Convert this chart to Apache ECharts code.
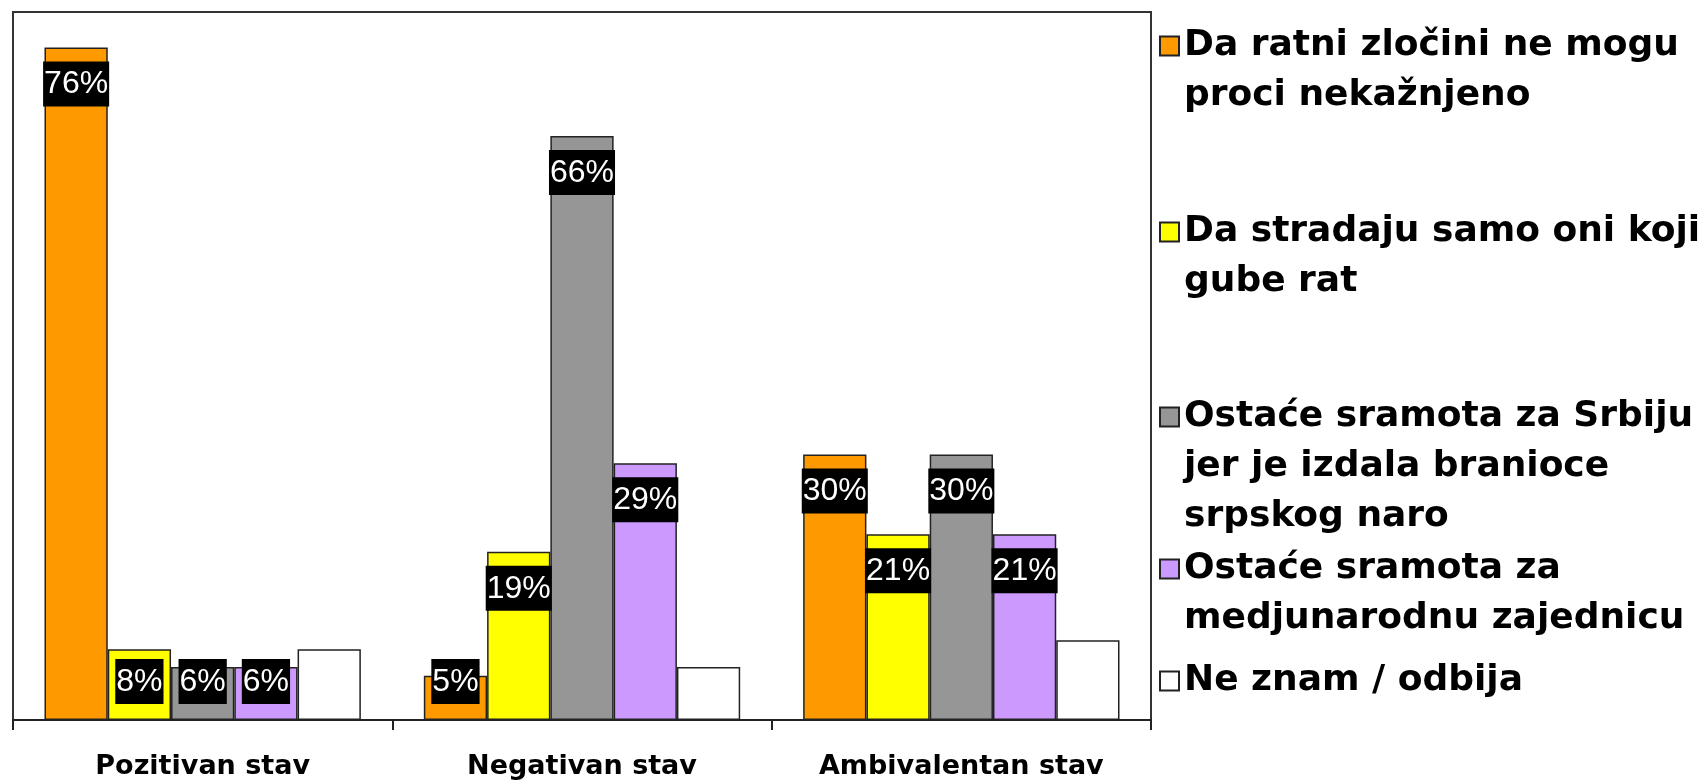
<!DOCTYPE html>
<html><head><meta charset="utf-8">
<script src="https://cdn.jsdelivr.net/npm/echarts@6/dist/echarts.min.js"></script>
<style>html,body{margin:0;padding:0;background:#fff}#c{width:1708px;height:783px}</style>
</head><body><div id="c"></div>
<script>
const categories = ['Pozitivan stav', 'Negativan stav', 'Ambivalentan stav'];
const seriesNames = [
  'Da ratni zločini ne mogu\nproci nekažnjeno',
  'Da stradaju samo oni koji\ngube rat',
  'Ostaće sramota za Srbiju\njer je izdala branioce\nsrpskog naro',
  'Ostaće sramota za\nmedjunarodnu zajednicu',
  'Ne znam / odbija'
];
const zlociniNekaznjeno = [76, 5, 30];
const stradajuGubitnici = [8, 19, 21];
const sramotaSrbija = [6, 66, 30];
const sramotaMedjunarodna = [6, 29, 21];
const neZnam = [8, 6, 9];
const showLabels = [true, true, true, true, false];

const seriesValues = [zlociniNekaznjeno, stradajuGubitnici, sramotaSrbija, sramotaMedjunarodna, neZnam];
const colors = ['#FF9900', '#FFFF00', '#969696', '#CC99FF', '#FFFFFF'];
const labelFitMin = 8.5;           // below this the label box sits on the base
const legendFirstLine = [46, 232, 417, 569, 681];
const LH = 50;

const series = seriesValues.map((vals, i) => ({
  type: 'bar',
  name: seriesNames[i],
  barGap: '0%',
  barCategoryGap: '16.6%',
  itemStyle: { color: colors[i], borderColor: '#222', borderWidth: 1.5 },
  label: {
    show: showLabels[i],
    position: 'insideTop',
    distance: 14,
    formatter: '{c}%',
    color: '#fff',
    backgroundColor: '#000',
    fontFamily: 'Liberation Sans',
    fontSize: 32,
    padding: [7, 1, 6, 1]
  },
  data: vals.map(v => (showLabels[i] && v < labelFitMin)
    ? { value: v, label: { position: 'insideBottom', distance: 16 } }
    : v)
}));

const legends = seriesNames.map((n, i) => {
  const lines = n.split('\n').length;
  return {
    orient: 'vertical',
    left: 1159,
    top: legendFirstLine[i] - (2 * lines - 1) * LH / 2,
    padding: 0,
    icon: 'rect',
    itemWidth: 19,
    itemHeight: 19,
    selectedMode: false,
    data: [n],
    // blank lines above keep the marker level with the first text line
    formatter: name => '\n'.repeat(lines - 1) + name,
    textStyle: {
      fontFamily: 'DejaVu Sans', fontWeight: 'bold', fontSize: 36, color: '#000',
      lineHeight: LH
    }
  };
});

const chart = echarts.init(document.getElementById('c'));
chart.setOption({
  animation: false,
  backgroundColor: '#fff',
  grid: { left: 13, right: 557, top: 12, bottom: 63, show: true, borderColor: '#333', borderWidth: 2, backgroundColor: '#fff' },
  legend: legends,
  xAxis: {
    type: 'category',
    data: categories,
    axisLine: { lineStyle: { color: '#222', width: 2 } },
    axisTick: { show: true, length: 10, lineStyle: { color: '#222', width: 2 } },
    axisLabel: { margin: 33, fontFamily: 'DejaVu Sans', fontWeight: 'bold', fontSize: 27, color: '#000' }
  },
  yAxis: { type: 'value', min: 0, max: 80, show: false },
  series: series
});
</script>
</body></html>
